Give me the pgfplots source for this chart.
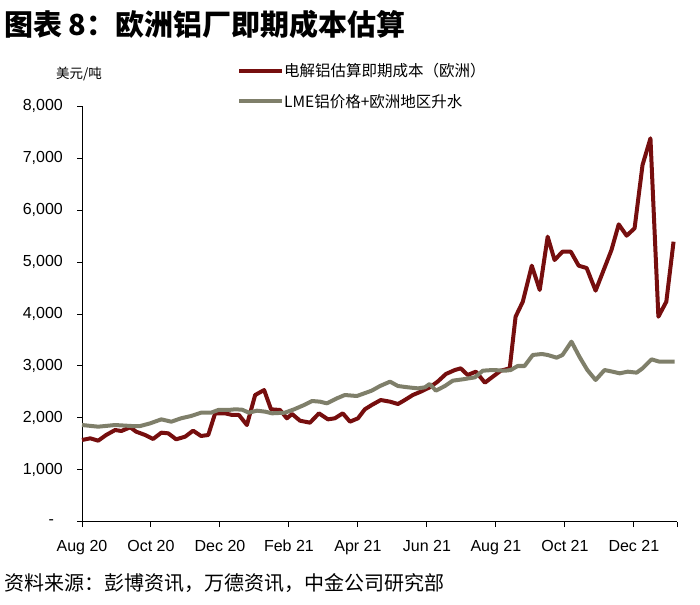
\documentclass[border=0pt]{standalone}
\usepackage{fontspec}
\setmainfont{Liberation Sans}
\newfontfamily\cjk{Noto Sans CJK SC}
\usepackage{pgfplots}
\pgfplotsset{compat=1.18}
\definecolor{cred}{RGB}{118,14,14}
\definecolor{cgrey}{RGB}{127,127,106}
\begin{document}
\begin{tikzpicture}
\path[use as bounding box] (0pt,0pt) rectangle (700pt,604pt);
\node[anchor=west, font=\cjk\bfseries\fontsize{29}{32}\selectfont, inner sep=0pt] at (4pt,580pt) {图表 8：欧洲铝厂即期成本估算};
\node[anchor=west, font=\cjk\fontsize{20}{22}\selectfont, inner sep=0pt] at (4pt,21pt) {资料来源：彭博资讯，万德资讯，中金公司研究部};
\node[font=\cjk\fontsize{13.5}{15}\selectfont, inner sep=0pt] at (79pt,530pt) {美元/吨};
\begin{axis}[
  at={(82pt,82pt)}, anchor=south west,
  scale only axis, width=595pt, height=416pt,
  xmin=0, xmax=17.25, ymin=0, ymax=8000,
  axis lines*=left,
  axis line style={line width=1pt, black},
  tick style={line width=1pt, black},
  tick align=outside, major tick length=5pt,
  xtick={0,2,4,6,8,10,12,14,16},
  xticklabels={Aug 20, Oct 20, Dec 20, Feb 21, Apr 21, Jun 21, Aug 21, Oct 21, Dec 21},
  extra x ticks={17.25}, extra x tick labels={},
  ytick={0,1000,2000,3000,4000,5000,6000,7000,8000},
  yticklabels={{-\hphantom{0}},{1,000},{2,000},{3,000},{4,000},{5,000},{6,000},{7,000},{8,000}},
  ticklabel style={font=\fontsize{16}{18}\selectfont, inner sep=0pt},
  yticklabel style={anchor=east, xshift=-14pt},
  xticklabel style={anchor=north, yshift=-13pt},
  legend style={draw=none, fill=none, at={(axis description cs:0.2605,1.103)}, anchor=north west,
    inner sep=0pt, row sep=16pt,
    nodes={inner sep=0pt, font=\cjk\fontsize{15.5}{17}\selectfont},
    /tikz/every even column/.style={column sep=2pt}},
  legend cell align=left,
  legend image code/.code={\draw[#1] (0pt,0pt) -- (43pt,0pt);},
  clip=false,
]
\addplot[cred, line width=4pt, line join=round] coordinates {
(0,1577) (0.24,1609) (0.47,1564) (0.70,1673) (0.96,1769) (1.14,1750) (1.40,1821) (1.57,1737)
(1.83,1673) (2.06,1596) (2.30,1718) (2.50,1705) (2.73,1590) (2.99,1641) (3.22,1756) (3.45,1654)
(3.66,1673) (3.86,2090) (4.15,2090) (4.35,2058) (4.55,2058) (4.78,1865) (5.02,2442) (5.28,2538)
(5.48,2167) (5.74,2154) (5.94,1994) (6.09,2077) (6.32,1948) (6.61,1910) (6.87,2090) (7.13,1974)
(7.33,1994) (7.56,2090) (7.77,1929) (8.00,1994) (8.20,2167) (8.40,2250) (8.66,2346) (8.93,2314)
(9.16,2269) (9.36,2346) (9.59,2442) (9.82,2506) (10.08,2590) (10.31,2699) (10.55,2846) (10.81,2923)
(10.98,2955) (11.18,2827) (11.42,2891) (11.68,2679) (11.91,2795) (12.14,2910) (12.40,2955) (12.57,3948)
(12.78,4237) (13.04,4929) (13.27,4462) (13.50,5487) (13.70,5038) (13.93,5199) (14.17,5199) (14.40,4929)
(14.63,4884) (14.89,4449) (15.09,4788) (15.35,5231) (15.56,5724) (15.79,5506) (16.02,5648) (16.25,6865)
(16.48,7378) (16.71,3948) (16.94,4237) (17.15,5391)
};
\addlegendentry{电解铝估算即期成本（欧洲）}
\addplot[cgrey, line width=4pt, line join=round] coordinates {
(0,1865) (0.47,1833) (0.96,1865) (1.43,1846) (1.69,1846) (1.98,1898) (2.30,1974) (2.59,1929)
(2.87,1994) (3.16,2038) (3.45,2102) (3.74,2102) (3.95,2154) (4.24,2154) (4.44,2167) (4.64,2160)
(4.84,2102) (5.07,2141) (5.31,2122) (5.51,2090) (5.88,2102) (6.15,2167) (6.44,2250) (6.67,2327)
(6.90,2314) (7.10,2282) (7.39,2378) (7.62,2442) (7.97,2423) (8.40,2526) (8.64,2615) (8.93,2699)
(9.16,2615) (9.45,2590) (9.74,2570) (9.94,2590) (10.08,2654) (10.26,2526) (10.52,2615) (10.75,2718)
(11.04,2744) (11.39,2782) (11.62,2910) (11.91,2923) (12.27,2910) (12.43,2923) (12.63,3000) (12.83,3000)
(13.07,3212) (13.33,3231) (13.50,3212) (13.76,3160) (13.93,3212) (14.19,3468) (14.42,3179) (14.65,2923)
(14.89,2731) (15.15,2923) (15.38,2891) (15.59,2859) (15.82,2891) (16.08,2872) (16.25,2955) (16.51,3128)
(16.74,3083) (17.18,3083)
};
\addlegendentry{LME铝价格+欧洲地区升水}
\end{axis}
\end{tikzpicture}
\end{document}
